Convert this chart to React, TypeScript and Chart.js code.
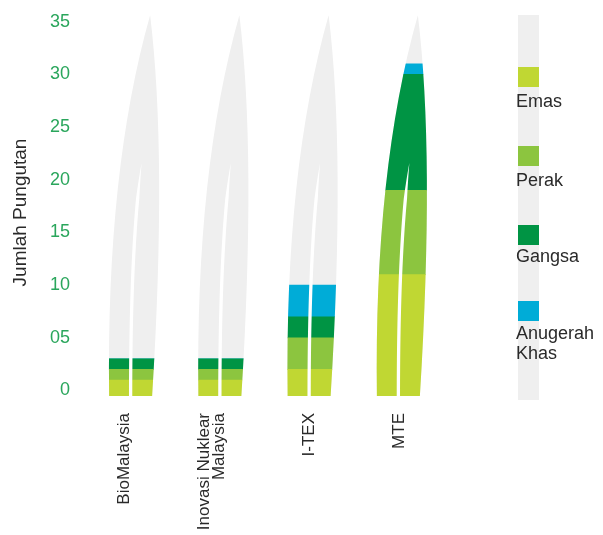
import React, { useEffect, useRef } from "react";
import { Chart, registerables } from "chart.js";

Chart.register(...registerables);

// ---- data ----
const CATEGORIES: (string | string[])[] = ["BioMalaysia", ["Inovasi Nuklear", "Malaysia"], "I-TEX", "MTE"];
const EMAS = [1, 1, 2, 11];
const PERAK = [1, 1, 3, 8];
const GANGSA = [1, 1, 2, 11];
const ANUGERAH_KHAS = [0, 0, 3, 1];
const SERIES_NAMES = ["Emas", "Perak", "Gangsa", ["Anugerah", "Khas"]];
const Y_TICKS = [0, 5, 10, 15, 20, 25, 30, 35];
const Y_TICK_LABELS = ["0", "05", "10", "15", "20", "25", "30", "35"];
const Y_TITLE = "Jumlah Pungutan";
const LEAF_MAX = 35.6;
const Y_MAX = 36;
const Y_MIN = -0.52;

// ---- styles ----
const FONT = "'Liberation Sans', Arial, Helvetica, sans-serif";
const COLORS = ["#c0d733", "#8cc53f", "#009444", "#00acd7"];
const GRAY = "#efefef";
const GREEN_TEXT = "#2aa65c";
const DARK_TEXT = "#2a2a2a";
const LEGEND_TOPS = [67, 146, 225, 301];
const LEGEND_LABEL_GAP = [4, 3.5, 1, 2];
const LABEL_SHIFT = [-6, -8.5, 0.5, 0.5];
const LABEL_LINE_GAP = 15;

function leafPath(ctx: CanvasRenderingContext2D, x: number, yb: number, yt: number) {
  const H = yb - yt;
  ctx.moveTo(x - 21.5, yb);
  ctx.quadraticCurveTo(x - 24.5, yb - 0.593 * H, x + 19.5, yt);
  ctx.quadraticCurveTo(x + 36.5, yb - 0.633 * H, x + 21.5, yb);
  ctx.closePath();
}

function slitPath(ctx: CanvasRenderingContext2D, x: number, yb: number, yt: number) {
  const H = yb - yt;
  const sh = 0.612 * H;
  const N = 40;
  const left: [number, number][] = [];
  const right: [number, number][] = [];
  for (let i = 0; i <= N; i++) {
    const t = i / N;
    const px = x + t * t * 11;
    const py = yb - (2 * t * (1 - t) * 0.65 + t * t) * sh;
    const w = 3.3 * Math.min(1, (1 - t) * 5);
    left.push([px - w / 2, py]);
    right.push([px + w / 2, py]);
  }
  ctx.moveTo(left[0][0], yb + 2);
  left.forEach(([a, b]) => ctx.lineTo(a, b));
  for (let i = right.length - 1; i >= 0; i--) ctx.lineTo(right[i][0], right[i][1]);
  ctx.lineTo(right[0][0], yb + 2);
  ctx.closePath();
}

const leafPlugin = {
  id: "leaves",
  beforeDatasetsDraw(chart: any) {
    const { ctx } = chart;
    const x = chart.scales.x;
    const y = chart.scales.y;
    const yb = y.getPixelForValue(Y_MIN);
    const yt = y.getPixelForValue(LEAF_MAX);
    ctx.save();
    ctx.beginPath();
    CATEGORIES.forEach((_, i) => leafPath(ctx, x.getPixelForValue(i), yb, yt));
    ctx.fillStyle = GRAY;
    ctx.fill();
    ctx.clip();
  },
  afterDatasetsDraw(chart: any) {
    const { ctx } = chart;
    ctx.restore();
    const x = chart.scales.x;
    const y = chart.scales.y;
    const yb = y.getPixelForValue(Y_MIN);
    const yt = y.getPixelForValue(LEAF_MAX);
    ctx.save();
    ctx.beginPath();
    CATEGORIES.forEach((_, i) => slitPath(ctx, x.getPixelForValue(i), yb, yt));
    ctx.fillStyle = "#ffffff";
    ctx.fill();
    ctx.restore();

    // category labels, rotated
    ctx.save();
    ctx.font = `17px ${FONT}`;
    ctx.fillStyle = DARK_TEXT;
    ctx.textAlign = "right";
    ctx.textBaseline = "middle";
    CATEGORIES.forEach((c, i) => {
      const lines = Array.isArray(c) ? c : [c];
      const cx = x.getPixelForValue(i) + LABEL_SHIFT[i];
      lines.forEach((l, j) => {
        const lx = cx + (j - (lines.length - 1) / 2) * LABEL_LINE_GAP;
        ctx.save();
        ctx.translate(lx, chart.chartArea.bottom + 17);
        ctx.rotate(-Math.PI / 2);
        ctx.fillText(l, 0, 0);
        ctx.restore();
      });
    });
    ctx.restore();

    // y axis title
    ctx.save();
    ctx.font = `19px ${FONT}`;
    ctx.fillStyle = DARK_TEXT;
    ctx.textAlign = "center";
    ctx.textBaseline = "middle";
    ctx.translate(21, (chart.chartArea.top + chart.chartArea.bottom) / 2 + 9);
    ctx.rotate(-Math.PI / 2);
    ctx.fillText(Y_TITLE, 0, 0);
    ctx.restore();
  },
};

export default function App() {
  const canvasRef = useRef<HTMLCanvasElement | null>(null);

  useEffect(() => {
    if (!canvasRef.current) return;
    Chart.defaults.font.family = FONT;
    const seriesData = [EMAS, PERAK, GANGSA, ANUGERAH_KHAS];
    const chart = new Chart(canvasRef.current, {
      type: "bar",
      data: {
        labels: CATEGORIES as any,
        datasets: seriesData.map((d, i) => ({
          label: Array.isArray(SERIES_NAMES[i]) ? (SERIES_NAMES[i] as string[]).join(" ") : (SERIES_NAMES[i] as string),
          data: d,
          backgroundColor: COLORS[i],
          borderWidth: 0,
          barPercentage: 1,
          categoryPercentage: 1,
          ...(i === 0 ? { base: Y_MIN } : {}),
        })) as any,
      },
      options: {
        animation: false,
        responsive: true,
        maintainAspectRatio: false,
        layout: { padding: { left: 0, top: 11, right: 160, bottom: 0 } },
        plugins: { legend: { display: false }, tooltip: { enabled: false } },
        scales: {
          x: {
            stacked: true,
            grid: { display: false, drawTicks: false },
            border: { display: false },
            ticks: { display: false },
            afterFit: (axis: any) => {
              axis.height = 139;
              axis.paddingLeft = 0;
              axis.paddingRight = 0;
            },
          },
          y: {
            stacked: true,
            min: Y_MIN,
            max: Y_MAX,
            grid: { display: false, drawTicks: false },
            border: { display: false },
            afterBuildTicks: (axis: any) => {
              axis.ticks = Y_TICKS.map((v) => ({ value: v }));
            },
            afterFit: (axis: any) => {
              axis.width = 86;
              axis.paddingTop = 0;
              axis.paddingBottom = 0;
            },
            ticks: {
              color: GREEN_TEXT,
              font: { family: FONT, size: 18 },
              padding: 16,
              callback: (v: any) => {
                const i = Y_TICKS.indexOf(Number(v));
                return i >= 0 ? Y_TICK_LABELS[i] : "";
              },
            },
            title: { display: false },
          },
        },
      } as any,
      plugins: [leafPlugin as any],
    });
    return () => chart.destroy();
  }, []);

  return (
    <div style={{ position: "fixed", left: 0, top: 0, width: 603, height: 535, background: "#fff" }}>
      <div style={{ position: "absolute", left: 0, top: 0, width: 603, height: 535 }}>
        <canvas ref={canvasRef} />
      </div>
      <div style={{ position: "absolute", left: 518, top: 15, width: 21, height: 385, background: GRAY }} />
      {SERIES_NAMES.map((name, i) => {
        const lines = Array.isArray(name) ? name : [name];
        return (
          <React.Fragment key={i}>
            <div
              style={{
                position: "absolute",
                left: 518,
                top: LEGEND_TOPS[i],
                width: 21,
                height: 20,
                background: COLORS[i],
              }}
            />
            <div
              style={{
                position: "absolute",
                left: 516,
                top: LEGEND_TOPS[i] + 20 + LEGEND_LABEL_GAP[i],
                fontFamily: FONT,
                fontSize: 18,
                lineHeight: "20px",
                color: DARK_TEXT,
                whiteSpace: "nowrap",
              }}
            >
              {lines.map((l, j) => (
                <div key={j}>{l}</div>
              ))}
            </div>
          </React.Fragment>
        );
      })}
    </div>
  );
}
